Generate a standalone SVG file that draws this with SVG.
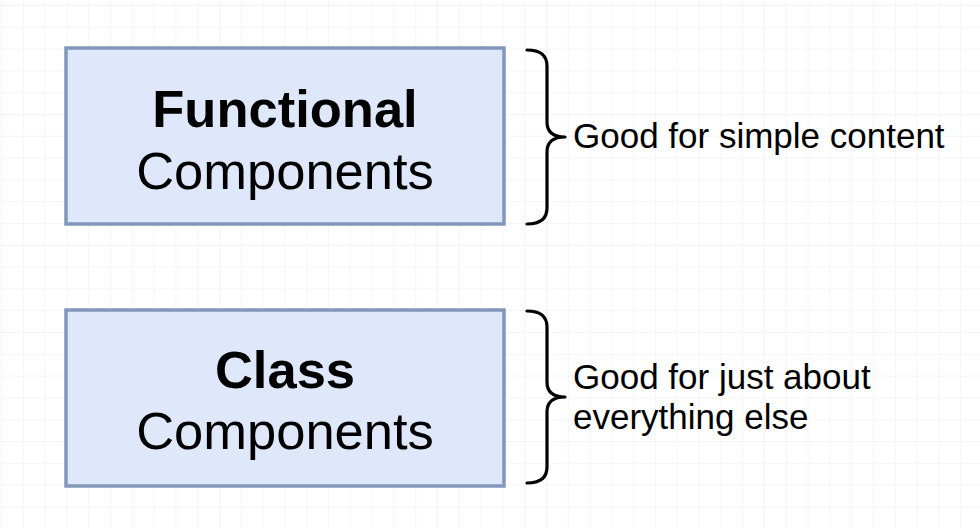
<svg xmlns="http://www.w3.org/2000/svg" width="980" height="528" viewBox="0 0 980 528">
<style>
.box{fill:#dfe8fb;stroke:#8396bb;stroke-width:3.5}
.t{font-family:"Liberation Sans",Arial,sans-serif;fill:#000;text-anchor:middle;font-size:52.5px}
.b{font-weight:bold}
.lbl{font-family:"Liberation Sans",Arial,sans-serif;fill:#000;font-size:35px}
.brace{fill:none;stroke:#000;stroke-width:3.2;stroke-linecap:round;stroke-linejoin:round}
</style>
<defs>
<pattern id="grid" width="21.8" height="21.8" patternUnits="userSpaceOnUse" x="1" y="5">
<path d="M0 0H21.8M0 0V21.8" fill="none" stroke="#ececec" stroke-width="1"/>
</pattern>
</defs>
<rect width="980" height="528" fill="#fff"/>
<rect width="980" height="528" fill="url(#grid)"/>
<g id="functional">
<rect class="box" x="66" y="48" width="438" height="176"/>
<text class="t b" x="285" y="127">Functional</text>
<text class="t" x="285" y="189">Components</text>
</g>
<g id="class">
<rect class="box" x="66" y="310" width="438" height="176"/>
<text class="t b" x="285" y="388">Class</text>
<text class="t" x="285" y="449">Components</text>
</g>
<g id="connectors">
<path class="brace" d="M527 50Q547 50 547 66V122Q547 137 565 137Q547 137 547 152V208Q547 224 527 224"/>
<path class="brace" d="M527 311Q547 311 547 327V382Q547 397 565 397Q547 397 547 412V467Q547 483 527 483"/>
</g>
<g id="label1"><text class="lbl" x="573" y="148">Good for simple content</text></g>
<g id="label2"><text class="lbl" x="573" y="389">Good for just about</text><text class="lbl" x="573" y="429">everything else</text></g>
</svg>
